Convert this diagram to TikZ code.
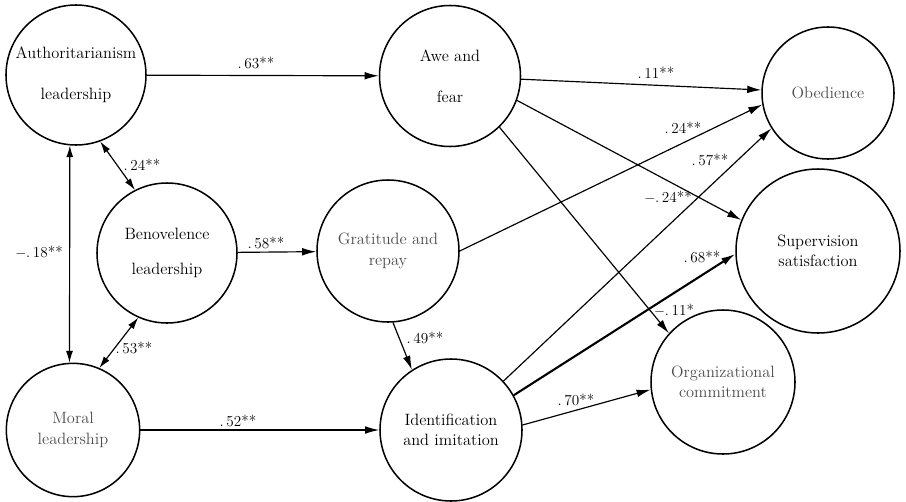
\documentclass[tikz,border=0pt]{standalone}
\usetikzlibrary{arrows.meta}

\begin{document}
\begin{tikzpicture}[x=0.03cm,y=-0.03cm,
    var/.style={draw,circle,line width=1.3pt,inner sep=0pt,align=center,
      font=\fontsize{14}{17.5}\selectfont},
    faint/.style={text=black!70},
    lbl/.style={inner sep=0pt,font=\fontsize{13}{15}\selectfont},
    effect/.style={line width=1pt,-{Latex[length=12pt,width=6.5pt]}},
    corr/.style={line width=1pt,{Latex[length=10pt,width=6pt]}-{Latex[length=10pt,width=6pt]}}]
  \useasboundingbox (0,0) rectangle (906,501);

  \node[var,minimum size=4.2cm] (auth) at (76,75) {Authoritarianism\\[0.62cm]leadership};
  \node[var,minimum size=4.2cm] (benev) at (167,253) {Benovelence\\[0.44cm]leadership};
  \node[var,faint,minimum size=4cm] (moral) at (73,430) {Moral\\leadership};
  \node[var,minimum size=4.23cm] (awe) at (450,76) {Awe and\\[0.62cm]fear};
  \node[var,faint,minimum size=4.26cm] (grat) at (388,251) {Gratitude and\\repay};
  \node[var,minimum size=4.26cm] (ident) at (451,430) {Identification\\and imitation};
  \node[var,faint,minimum size=3.96cm] (obed) at (828,93) {Obedience};
  \node[var,minimum size=4.92cm] (superv) at (818,251) {Supervision\\satisfaction};
  \node[var,faint,minimum size=4.32cm] (orgc) at (723,382) {Organizational\\commitment};

  \draw[effect] (auth) -- (awe);
  \draw[corr] (auth.-70) -- (benev.117);
  \draw[corr] (auth.-95) -- (moral.93);
  \draw[corr] (benev.246) -- (moral.67);
  \draw[effect] (benev) -- (grat);
  \draw[effect] (moral) -- (ident);
  \draw[effect] (grat.-86) -- (ident.123);
  \draw[effect] (awe) -- (obed);
  \draw[effect] (grat.east) -- (obed.190);
  \draw[effect] (ident.43) -- (obed.212);
  \draw[effect] (awe.-20) -- (superv.158);
  \draw[effect] (awe.-46) -- (orgc.138);
  \draw[effect,line width=1.8pt] (ident.29) -- (superv.182);
  \draw[effect] (ident.4) -- (orgc.186);

  \node[lbl] (l63) at (256,63) {.\,63**};
  \node[lbl] (l24a) at (142,165) {.\,24**};
  \node[lbl] (l18) at (39,252) {$-$.\,18**};
  \node[lbl] (l53) at (134,348) {.\,53**};
  \node[lbl] (l58) at (266,243) {.\,58**};
  \node[lbl] (l52) at (238,421) {.\,52**};
  \node[lbl] (l49) at (425,338) {.\,49**};
  \node[lbl] (l70) at (576,400) {.\,70**};
  \node[lbl] (l11) at (656,73) {.\,11**};
  \node[lbl] (l24b) at (683,128) {.\,24**};
  \node[lbl] (l57) at (710,160) {.\,57**};
  \node[lbl] (l24c) at (668,197) {$-$.\,24**};
  \node[lbl] (l68) at (702,257) {.\,68**};
  \node[lbl] (l11b) at (674,310) {$-$.\,11*};
\end{tikzpicture}
\end{document}
